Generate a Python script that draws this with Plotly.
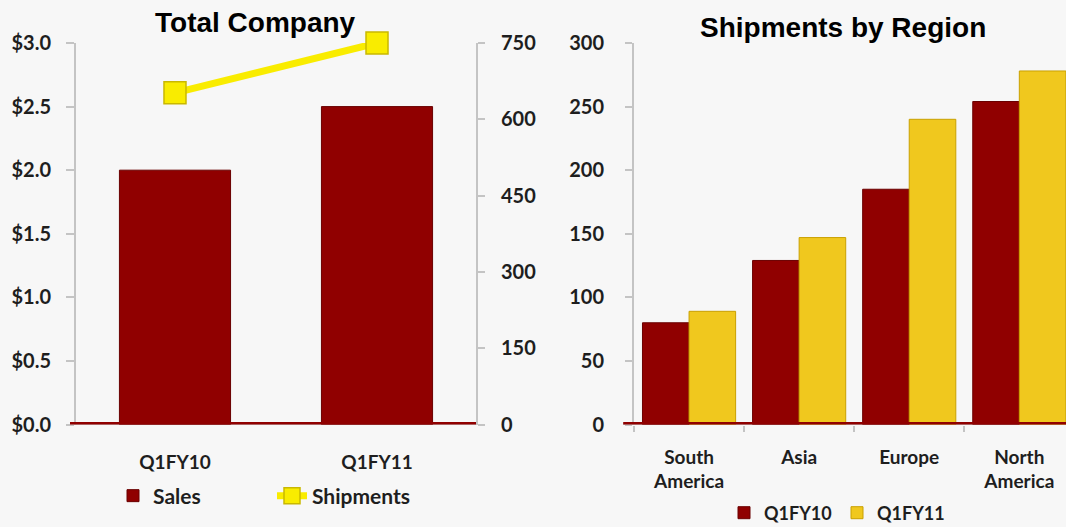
import plotly.graph_objects as go

# ---------------- data ----------------
quarters = ["Q1FY10", "Q1FY11"]
sales = [2.0, 2.5]                 # $ (left axis)
shipments_total = [652, 750]       # units (right axis)

regions = ["South America", "Asia", "Europe", "North America"]
region_labels = ["South<br>America", "Asia", "Europe", "North<br>America"]
ship_q1fy10 = [80, 129, 185, 254]
ship_q1fy11 = [89, 147, 240, 278]

sales_ticks = [0, 0.5, 1.0, 1.5, 2.0, 2.5, 3.0]
sales_tick_labels = ["$0.0", "$0.5", "$1.0", "$1.5", "$2.0", "$2.5", "$3.0"]
ship_ticks = [0, 150, 300, 450, 600, 750]
region_ticks = [0, 50, 100, 150, 200, 250, 300]

# ---------------- styles ----------------
W, H = 1066, 527
BG = "#F7F7F7"
RED = "#900000"
GOLD = "#F0C81E"
YEL = "#F9EC00"
AXC = "#C4C4C4"
TXT = "#1E1E1E"
XTICKFONT = dict(family="Lato, Open Sans, sans-serif", size=19, color=TXT, weight="bold")
YTICKFONT = dict(family="Lato, Open Sans, sans-serif", size=20, color=TXT, weight="bold")
LEGFONT1 = dict(family="Lato, Open Sans, sans-serif", size=21, color=TXT, weight="bold")
LEGFONT2 = dict(family="Lato, Open Sans, sans-serif", size=18, color=TXT, weight="bold")
TITLEFONT = dict(family="Liberation Sans, Arial, sans-serif", size=28, color="#000000", weight="bold")

def px_x(p):
    return p / W

def px_y(p):
    return (H - p) / H

ydom = [px_y(424.5), px_y(43)]
left_dom = [px_x(76), px_x(476)]
right_dom = [px_x(634), 1.0]

fig = go.Figure()

fig.add_trace(go.Bar(
    x=quarters, y=sales, name="Sales", xaxis="x", yaxis="y",
    marker=dict(color=RED, line=dict(color="#6A0000", width=1)),
    width=0.55, legend="legend",
))
fig.add_trace(go.Scatter(
    x=quarters, y=shipments_total, name="Shipments", xaxis="x", yaxis="y2",
    mode="lines+markers", cliponaxis=False,
    line=dict(color=YEL, width=7),
    marker=dict(symbol="square", size=22, color=YEL, line=dict(color="#C9B800", width=1.5)),
    legend="legend",
))

fig.add_trace(go.Bar(
    x=regions, y=ship_q1fy10, name="Q1FY10", xaxis="x3", yaxis="y3",
    marker=dict(color=RED, line=dict(color="#6A0000", width=1)),
    legend="legend2",
))
fig.add_trace(go.Bar(
    x=regions, y=ship_q1fy11, name="Q1FY11", xaxis="x3", yaxis="y3",
    marker=dict(color=GOLD, line=dict(color="#C9A000", width=1)),
    legend="legend2",
))

fig.update_layout(
    width=W, height=H, autosize=False,
    margin=dict(l=0, r=0, t=0, b=0, autoexpand=False),
    paper_bgcolor=BG, plot_bgcolor=BG,
    barmode="group", bargap=0.154, bargroupgap=0,
    xaxis=dict(domain=left_dom, anchor="y", type="category", automargin=False,
               range=[-0.49, 1.49], showgrid=False, showline=False,
               zeroline=False, ticks="", tickfont=XTICKFONT,
               ticklabelstandoff=24),
    yaxis=dict(domain=ydom, anchor="x", range=[0, 3.0], automargin=False,
               tickvals=sales_ticks, ticktext=sales_tick_labels,
               showgrid=False, zeroline=False,
               showline=True, linecolor=AXC, linewidth=2,
               ticks="outside", ticklen=8, tickcolor=AXC, tickwidth=2,
               tickfont=YTICKFONT, ticklabelstandoff=11),
    yaxis2=dict(domain=ydom, anchor="x", overlaying="y", side="right",
                range=[0, 750], tickvals=ship_ticks, automargin=False,
                showgrid=False, zeroline=False,
                showline=True, linecolor=AXC, linewidth=2,
                ticks="outside", ticklen=7, tickcolor=AXC, tickwidth=2,
                tickfont=YTICKFONT, ticklabelstandoff=12),
    xaxis3=dict(domain=right_dom, anchor="y3", type="category", automargin=False,
                range=[-0.5, 3.424], showgrid=False, showline=False,
                zeroline=False, ticks="outside", tickson="boundaries",
                ticklen=6, tickcolor=AXC, tickwidth=2,
                tickvals=regions, ticktext=region_labels,
                tickfont=XTICKFONT, ticklabelstandoff=19),
    yaxis3=dict(domain=ydom, anchor="x3", range=[0, 300], automargin=False,
                tickvals=region_ticks,
                showgrid=False, zeroline=False,
                showline=True, linecolor=AXC, linewidth=2,
                ticks="outside", ticklen=7, tickcolor=AXC, tickwidth=2,
                tickfont=YTICKFONT, ticklabelstandoff=17),
    legend=dict(orientation="h", x=px_x(113), y=px_y(496),
                xanchor="left", yanchor="middle",
                bgcolor="rgba(0,0,0,0)", font=LEGFONT1,
                entrywidth=114, entrywidthmode="pixels", traceorder="normal"),
    legend2=dict(orientation="h", x=px_x(724), y=px_y(513),
                 xanchor="left", yanchor="middle",
                 bgcolor="rgba(0,0,0,0)", font=LEGFONT2,
                 entrywidth=68, entrywidthmode="pixels", traceorder="normal"),
    showlegend=True,
)

# baseline "floor" lines (styling)
for xr, yr, x0 in [("x domain", "y", -0.015), ("x3 domain", "y3", -0.025)]:
    fig.add_shape(type="line", xref=xr, yref=yr, x0=x0, x1=1.0, y0=0, y1=0,
                  ysizemode="pixel", yanchor=0,
                  line=dict(color="#9A9A9A", width=2), layer="below")
    fig.add_shape(type="line", xref=xr, yref=yr, x0=x0, x1=1.0, y0=0, y1=0,
                  line=dict(color=RED, width=5), layer="above")

# titles
fig.add_annotation(text="Total Company", xref="paper", yref="paper",
                   x=px_x(255), y=px_y(22), xanchor="center", yanchor="middle",
                   showarrow=False, font=TITLEFONT)
fig.add_annotation(text="Shipments by Region", xref="paper", yref="paper",
                   x=px_x(843), y=px_y(27), xanchor="center", yanchor="middle",
                   showarrow=False, font=TITLEFONT)

fig.write_html("out.html")
